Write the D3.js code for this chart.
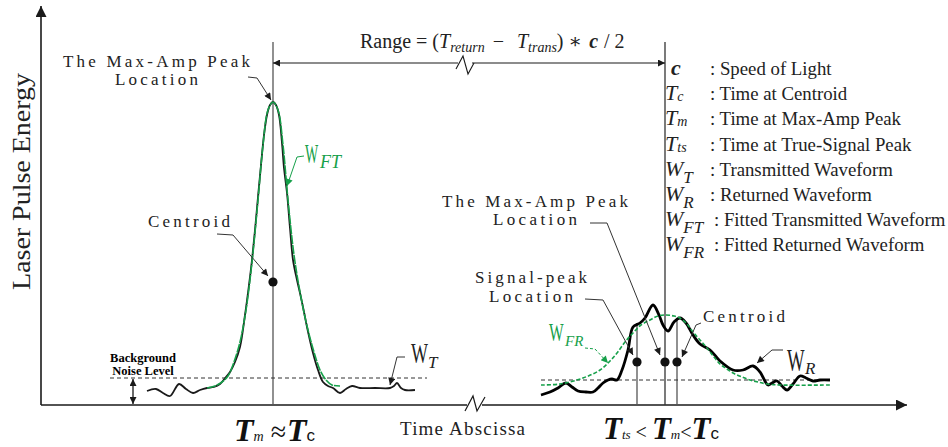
<!DOCTYPE html>
<html>
<head>
<meta charset="utf-8">
<script src="https://cdn.jsdelivr.net/npm/d3@7"></script>
<style>body{margin:0;background:#fff}</style>
</head>
<body>
<svg id="chart" width="948" height="447"></svg>
<script>
// waveform samples as [time, energy] (time from the axis origin, energy above the axis)
var transmitted = [[106,14],[115,16],[122,12],[129,9],[138,21],[145,16],[152,12],[159,15],[166,17],[173,18],
  [179,21],[185,28],[189,33],[194,43],[199,58],[204,90],[208,120],[211,145],[214,175],[217,208],[220,240],
  [223,270],[226,290],[229,300],[232,303],[235,300],[238,290],[241,262],[243,237],[246,212],[249,177],
  [252,145],[256,125],[259,112],[263,93],[266,78],[272,52],[277,35],[282,23],[287,19],[292,17],[299,12],
  [305,16],[311,19],[319,17],[334,17],[349,17],[353,19],[356,22],[360,17],[364,15],[374,15]];
var fittedTransmitted = [[166,17],[174,19],[181,23],[187,29],[193,43],[199,63],[205,95],[211,143],[217,205],
  [222,260],[227,295],[232,303],[237,295],[242,260],[247,205],[253,150],[259,113],[266,79],[273,53],
  [279,35],[285,25],[291,20],[299,19]];
var returned = [[500,10],[509,13],[517,17],[525,22],[531,18],[537,14],[545,13],[552,13],[557,17],[562,22],
  [567,25],[571,26],[576,25],[581,35],[587,55],[592,78],[599,82],[604,87],[612,100],[618,90],[622,80],
  [627,74],[633,83],[639,87],[645,82],[652,70],[659,61],[669,55],[679,44],[692,35],[702,35],[712,39],
  [719,33],[727,20],[731,22],[736,24],[741,19],[746,15],[752,21],[759,29],[765,27],[772,24],[779,25],[789,25]];
var fittedReturned = [[500,20],[519,21],[542,27],[559,35],[569,44],[576,52],[584,63],[592,72],[600,80],
  [609,85],[617,89],[625,90],[633,89],[639,87],[646,81],[652,73],[659,65],[666,57],[673,48],[679,41],
  [686,36],[692,32],[701,28],[709,25],[717,23],[726,21],[739,20],[789,20]];
var noiseLeft = [[69,27],[386,27]];
var noiseRight = [[500,25],[789,25]];

// marker times
var tMaxAmpTrans = 232, centroidTransE = 123;
var tSignalPeak = 596, tMaxAmpRet = 624, tCentroidRet = 636;
var signalTopE = 82, centroidTopE = 87, retDotE = 43;
var rangeE = 342, markerTopE = 363;

// legend
var legendSym = ["c", "T", "T", "T", "W", "W", "W", "W"];
var legendSub = ["", "c", "m", "ts", "T", "R", "FT", "FR"];
var legendDesc = ["Speed of Light", "Time at Centroid", "Time at Max-Amp Peak", "Time at True-Signal Peak",
  "Transmitted Waveform", "Returned Waveform", "Fitted Transmitted Waveform", "Fitted Returned Waveform"];

var serif = "'Liberation Serif', 'DejaVu Serif', serif";
var green = "#16a04a";
var ink = "#1a1a1a";

var svg = d3.select("#chart");

var x = d3.scaleLinear().domain([0, 866]).range([41, 907]);
var y = d3.scaleLinear().domain([0, 399]).range([405, 6]);

var defs = svg.append("defs");
function marker(id, w, h, color) {
  defs.append("marker").attr("id", id)
    .attr("viewBox", "0 0 10 10").attr("refX", 10).attr("refY", 5)
    .attr("markerWidth", w).attr("markerHeight", h)
    .attr("markerUnits", "userSpaceOnUse").attr("orient", "auto-start-reverse")
    .append("path").attr("d", "M0,0L10,5L0,10Z").attr("fill", color);
}
marker("axisArrow", 15, 11, ink);
marker("arrow", 10, 7, ink);
marker("garrow", 10, 7, green);

var line = d3.line().x(function(d) { return x(d[0]); }).y(function(d) { return y(d[1]); });
var smooth = d3.line().x(function(d) { return x(d[0]); }).y(function(d) { return y(d[1]); })
  .curve(d3.curveCatmullRom.alpha(0.5));
var px = d3.line();

// axes
svg.append("path").attr("d", line([[0, 0], [0, 399]]))
  .attr("stroke", ink).attr("stroke-width", 1.6).attr("fill", "none").attr("marker-end", "url(#axisArrow)");
svg.append("path").attr("d", line([[0, 0], [426, 0]]))
  .attr("stroke", ink).attr("stroke-width", 1.6).attr("fill", "none");
svg.append("path").attr("d", line([[441, 0], [866, 0]]))
  .attr("stroke", ink).attr("stroke-width", 1.6).attr("fill", "none").attr("marker-end", "url(#axisArrow)");
svg.append("path").attr("d", line([[424, -6], [432, 9], [436, -6], [444, 8]]))
  .attr("stroke", ink).attr("stroke-width", 1.2).attr("fill", "none");

// vertical marker lines
svg.append("path").attr("d", line([[tMaxAmpTrans, 0], [tMaxAmpTrans, markerTopE]]))
  .attr("stroke", "#555").attr("stroke-width", 1.3);
svg.append("path").attr("d", line([[tMaxAmpRet, 0], [tMaxAmpRet, markerTopE]]))
  .attr("stroke", "#333").attr("stroke-width", 1.3);
svg.append("path").attr("d", line([[tSignalPeak, 0], [tSignalPeak, signalTopE]]))
  .attr("stroke", "#555").attr("stroke-width", 1.3);
svg.append("path").attr("d", line([[tCentroidRet, 0], [tCentroidRet, centroidTopE]]))
  .attr("stroke", "#555").attr("stroke-width", 1.3);

// range arrow with break
svg.append("path").attr("d", line([[tMaxAmpTrans, rangeE], [417, rangeE]]))
  .attr("stroke", ink).attr("stroke-width", 1.2).attr("fill", "none").attr("marker-start", "url(#arrow)");
svg.append("path").attr("d", line([[431, rangeE], [tMaxAmpRet, rangeE]]))
  .attr("stroke", ink).attr("stroke-width", 1.2).attr("fill", "none").attr("marker-end", "url(#arrow)");
svg.append("path").attr("d", line([[415, 336], [422, 349], [427, 331], [433, 342]]))
  .attr("stroke", ink).attr("stroke-width", 1.1).attr("fill", "none");

// noise levels
svg.append("path").attr("d", line(noiseLeft)).attr("stroke", "#333").attr("stroke-width", 1)
  .attr("stroke-dasharray", "4,3").attr("fill", "none");
svg.append("path").attr("d", line(noiseRight)).attr("stroke", "#333").attr("stroke-width", 1)
  .attr("stroke-dasharray", "4,3").attr("fill", "none");
svg.append("path").attr("d", line([[92, 1], [92, 26]]))
  .attr("stroke", ink).attr("stroke-width", 1.3)
  .attr("marker-start", "url(#arrow)").attr("marker-end", "url(#arrow)");

// waveforms
svg.append("path").attr("d", smooth(transmitted)).attr("fill", "none")
  .attr("stroke", ink).attr("stroke-width", 1.8);
svg.append("path").attr("d", smooth(fittedTransmitted)).attr("fill", "none")
  .attr("stroke", green).attr("stroke-width", 1.6).attr("stroke-dasharray", "9,1");
svg.append("path").attr("d", smooth(returned)).attr("fill", "none")
  .attr("stroke", "#000").attr("stroke-width", 2.8);
svg.append("path").attr("d", smooth(fittedReturned)).attr("fill", "none")
  .attr("stroke", green).attr("stroke-width", 1.6).attr("stroke-dasharray", "4,2");

// dots
var dots = [[tMaxAmpTrans, centroidTransE], [tSignalPeak, retDotE], [tMaxAmpRet, retDotE], [tCentroidRet, retDotE]];
svg.selectAll("circle.dot").data(dots).enter().append("circle").attr("class", "dot")
  .attr("cx", function(d) { return x(d[0]); }).attr("cy", function(d) { return y(d[1]); })
  .attr("r", 4.6).attr("fill", "#111");

// leader lines
function leader(pts, color, dash) {
  svg.append("path").attr("d", px(pts)).attr("fill", "none")
    .attr("stroke", color || "#333").attr("stroke-width", 1)
    .attr("stroke-dasharray", dash || null)
    .attr("marker-end", color === green ? "url(#garrow)" : "url(#arrow)");
}
leader([[248, 77], [257, 78], [271, 100]]);
leader([[217, 234], [233, 235], [268, 276]]);
leader([[405, 357], [397, 357], [390, 385]]);
leader([[304, 156], [297, 157], [287, 186]], green);
leader([[590, 223], [607, 223], [660, 355]]);
leader([[585, 299], [603, 300], [633, 355]]);
leader([[701, 323], [696, 325], [682, 357]]);
leader([[783, 350], [772, 350], [757, 363]]);
leader([[585, 348], [595, 349], [608, 363]], green, "3,2");

// annotation text, stretched to the widths seen in the figure
function label(str, lx, ly, size, len) {
  svg.append("text").attr("x", lx).attr("y", ly)
    .attr("font-family", serif).attr("font-size", size)
    .attr("textLength", len).attr("lengthAdjust", "spacing")
    .attr("fill", "#222").text(str);
}
label("The Max-Amp Peak", 63, 67, 17, 187);
label("Location", 115, 85, 17, 83);
label("Centroid", 148, 227, 17, 82);
label("The Max-Amp Peak", 442, 207, 17, 186);
label("Location", 493, 225, 17, 84);
label("Signal-peak", 475, 283, 17, 112);
label("Location", 489, 302, 17, 84);
label("Centroid", 703, 322, 17, 82);

svg.append("text").attr("x", 143).attr("y", 362).attr("text-anchor", "middle")
  .attr("font-family", serif).attr("font-size", 12.5).attr("font-weight", "bold").text("Background");
svg.append("text").attr("x", 143).attr("y", 375).attr("text-anchor", "middle")
  .attr("font-family", serif).attr("font-size", 12.5).attr("font-weight", "bold").text("Noise Level");

// W labels: tall narrow W with italic subscript
function wLabel(lx, ly, size, sq, sub, sx, sy, subSize, color) {
  svg.append("text").attr("transform", "translate(" + lx + "," + ly + ") scale(" + sq + ",1)")
    .attr("font-family", serif).attr("font-size", size).attr("fill", color).text("W");
  svg.append("text").attr("x", sx).attr("y", sy)
    .attr("font-family", serif).attr("font-size", subSize).attr("font-style", "italic")
    .attr("fill", color).text(sub);
}
wLabel(411, 363, 30, 0.6, "T", 428, 368, 17, "#222");
wLabel(305, 163, 28, 0.5, "FT", 320, 168, 18, green);
wLabel(787, 371, 31, 0.6, "R", 805, 374, 17, "#222");
wLabel(549, 341, 25, 0.62, "FR", 565, 346, 15, green);

// range formula
var rt = svg.append("text").attr("x", 360).attr("y", 48)
  .attr("font-family", serif).attr("font-size", 20).attr("fill", "#222");
rt.append("tspan").text("Range = (");
rt.append("tspan").attr("font-style", "italic").text("T");
rt.append("tspan").attr("font-style", "italic").attr("font-size", 14).attr("dy", 4).text("return");
rt.append("tspan").attr("dy", -4).attr("dx", 8).text("−");
rt.append("tspan").attr("dx", 13).attr("font-style", "italic").text("T");
rt.append("tspan").attr("font-style", "italic").attr("font-size", 14).attr("dy", 4).text("trans");
rt.append("tspan").attr("dy", -4).text(")");
rt.append("tspan").attr("dx", 5).text("∗");
rt.append("tspan").attr("dx", 7).attr("font-style", "italic").attr("font-weight", "bold").text("c");
rt.append("tspan").attr("dx", 6).text("/ 2");

// legend
legendSym.forEach(function(s, i) {
  var ly = 75 + i * 25.2;
  var g = svg.append("text").attr("x", s === "c" ? 671 : 665).attr("y", ly)
    .attr("font-family", serif).attr("fill", "#222");
  g.append("tspan").attr("font-size", 22).attr("font-style", "italic")
    .attr("font-weight", s === "c" ? "bold" : "normal").text(s);
  if (legendSub[i]) {
    g.append("tspan").attr("font-style", "italic")
      .attr("font-size", s === "W" ? 17 : 14)
      .attr("dy", s === "W" ? 7 : 1).text(legendSub[i]);
  }
  svg.append("text").attr("x", i >= 6 ? 714 : 710).attr("y", ly)
    .attr("font-family", serif).attr("font-size", 18.8).attr("fill", "#222")
    .text(": " + legendDesc[i]);
});

// axis titles: y title runs from y=290 up to y=73 as in the figure
svg.append("text").attr("transform", "translate(30,290) rotate(-90)")
  .attr("font-family", serif).attr("font-size", 25).attr("fill", "#222")
  .attr("textLength", 217).attr("lengthAdjust", "spacingAndGlyphs")
  .text("Laser Pulse Energy");
label("Time Abscissa", 400, 435, 19, 125);

// bottom relations
var bl = svg.append("text").attr("x", 234).attr("y", 441).attr("font-family", serif).attr("fill", "#111");
bl.append("tspan").attr("font-size", 32).attr("font-style", "italic").attr("font-weight", "bold").text("T");
bl.append("tspan").attr("font-size", 14).attr("font-style", "italic").text("m");
bl.append("tspan").attr("dx", 7).attr("font-size", 28).text("≈");
bl.append("tspan").attr("dx", 1).attr("font-size", 32).attr("font-style", "italic").attr("font-weight", "bold").text("T");
bl.append("tspan").attr("font-size", 17).attr("font-family", "'Liberation Sans', sans-serif").text("c");

var br = svg.append("text").attr("x", 603).attr("y", 439).attr("font-family", serif).attr("fill", "#111");
br.append("tspan").attr("font-size", 31).attr("font-style", "italic").attr("font-weight", "bold").text("T");
br.append("tspan").attr("font-size", 13).attr("font-style", "italic").text("ts");
br.append("tspan").attr("dx", 5).attr("font-size", 20).text("<");
br.append("tspan").attr("dx", 5).attr("font-size", 31).attr("font-style", "italic").attr("font-weight", "bold").text("T");
br.append("tspan").attr("font-size", 13).attr("font-style", "italic").text("m");
br.append("tspan").attr("font-size", 20).text("<");
br.append("tspan").attr("font-size", 31).attr("font-style", "italic").attr("font-weight", "bold").text("T");
br.append("tspan").attr("font-size", 17).attr("font-family", "'Liberation Sans', sans-serif").text("c");
</script>
</body>
</html>
